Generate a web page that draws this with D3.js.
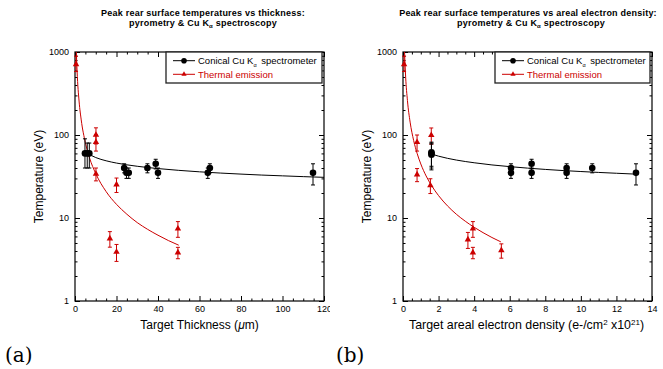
<!DOCTYPE html>
<html><head><meta charset="utf-8">
<script src="https://cdn.jsdelivr.net/npm/d3@7"></script>
<style>body{margin:0;background:#fff} svg{display:block}</style>
</head><body>
<svg id="c" width="663" height="369"></svg>
<script>
// ---------- Panel (a): vs target thickness (µm) ----------
const aKaX   = [4.8, 5.9, 6.9, 23.7, 24.8, 25.9, 34.9, 38.9, 40, 64, 65, 114.7];
const aKaT   = [60, 60, 60, 40, 35, 35, 40, 45, 35, 35, 40, 35];
const aKaUp  = [30, 20, 20, 5, 5, 5, 5, 6, 5, 5, 5, 10];
const aKaDn  = [20, 20, 20, 5, 5, 5, 5, 6, 5, 5, 5, 10];
const aThX   = [0.5, 10.1, 10.1, 10.1, 20, 16.8, 20, 49.6, 49.6];
const aThT   = [711, 100, 82, 34, 25.3, 5.65, 3.9, 7.45, 3.83];
const aThUp  = [180, 22, 18, 6, 5, 1.2, 0.9, 1.6, 0.6];
const aThDn  = [130, 22, 18, 6, 5, 1.2, 0.9, 1.6, 0.6];
const aKaFitX = [6, 10, 15, 20, 30, 40, 50, 60, 70, 80, 90, 100, 110, 120];
const aKaFitT = [60, 53.5, 48.9, 45.9, 42, 39.4, 37.5, 36, 34.8, 33.8, 32.9, 32.2, 31.5, 30.9];
const aThFitX = [0.65, 1, 2, 3, 5, 7, 10, 15, 20, 25, 30, 35, 40, 45, 50];
const aThFitT = [1000, 590, 250, 152, 81, 53, 34.3, 20.8, 14.6, 11.1, 8.8, 7.3, 6.2, 5.35, 4.7];

// ---------- Panel (b): vs areal electron density ----------
const bKaX   = [1.6, 1.6, 1.6, 6.07, 6.07, 7.23, 7.23, 9.2, 9.2, 10.64, 13.1];
const bKaT   = [62, 60, 58, 40, 35, 45, 35, 40, 35, 40, 35];
const bKaUp  = [20, 20, 20, 5, 5, 6, 5, 5, 5, 5, 10];
const bKaDn  = [20, 20, 20, 5, 5, 6, 5, 5, 5, 5, 10];
const bThX   = [0.06, 0.79, 0.79, 1.59, 1.54, 3.65, 3.93, 3.93, 5.53];
const bThT   = [711, 82, 33.4, 99.5, 24.7, 5.5, 7.45, 3.83, 4.08];
const bThUp  = [180, 18, 6, 22, 5, 1.2, 1.6, 0.6, 0.8];
const bThDn  = [130, 18, 6, 22, 5, 1.2, 1.6, 0.6, 0.8];
const bKaFitX = [1.6, 2, 3, 4, 5, 6, 7, 8, 9, 10, 11, 12, 13.2];
const bKaFitT = [59, 55.6, 49.9, 46.3, 43.6, 41.6, 39.9, 38.5, 37.3, 36.3, 35.4, 34.6, 33.7];
const bThFitX = [0.087, 0.15, 0.25, 0.4, 0.6, 0.8, 1, 1.3, 1.6, 2, 2.5, 3, 3.5, 4, 4.5, 5, 5.5];
const bThFitT = [1000, 496, 260, 143, 85.7, 59.5, 44.8, 32.1, 24.7, 18.6, 14, 11.1, 9.15, 7.73, 6.66, 5.82, 5.16];

// ---------- axes ----------
const yMajor = [1, 10, 100, 1000];
const yMinor = [2,3,4,5,6,7,8,9,20,30,40,50,60,70,80,90,200,300,400,500,600,700,800,900];
const aXMajor = [0, 20, 40, 60, 80, 100, 120];
const bXMajor = [0, 2, 4, 6, 8, 10, 12, 14];

const RED = "#cc0000";
const SANS = "'Liberation Sans', Arial, Helvetica, sans-serif";
const svg = d3.select("#c");
svg.append("defs").append("clipPath").attr("id","clipA")
  .append("rect").attr("x",0).attr("y",0).attr("width",330).attr("height",369);

function panel(cfg) {
  const g = svg.append("g").attr("font-family", SANS);
  if (cfg.clip) g.attr("clip-path", "url(#clip" + cfg.clip + ")");
  const top = 52, bottom = 301;
  const x = d3.scaleLinear().domain(cfg.xDomain).range([cfg.left, cfg.right]);
  const y = d3.scaleLog().domain([1, 1000]).range([bottom, top]);
  const xMinor = d3.range(cfg.xDomain[0], cfg.xDomain[1] + 1e-9, cfg.minorStep)
                  .filter(v => !cfg.xMajor.some(m => Math.abs(m - v) < 1e-9));

  function style(sel) {
    sel.select(".domain").remove();
    sel.selectAll("line").attr("stroke", "#000").attr("stroke-width", 1);
    sel.selectAll("text").attr("font-family", SANS).attr("font-size", 9).attr("fill", "#000");
  }
  // bottom axis
  g.append("g").attr("transform", `translate(0,${bottom})`)
    .call(d3.axisBottom(x).tickValues(cfg.xMajor).tickSize(-5).tickPadding(5).tickFormat(d3.format("d"))).call(style);
  g.append("g").attr("transform", `translate(0,${bottom})`)
    .call(d3.axisBottom(x).tickValues(xMinor).tickSize(-2.5).tickFormat("")).call(style);
  // top axis
  g.append("g").attr("transform", `translate(0,${top})`)
    .call(d3.axisTop(x).tickValues(cfg.xMajor).tickSize(-5).tickFormat("")).call(style);
  g.append("g").attr("transform", `translate(0,${top})`)
    .call(d3.axisTop(x).tickValues(xMinor).tickSize(-2.5).tickFormat("")).call(style);
  // left axis
  g.append("g").attr("transform", `translate(${cfg.left},0)`)
    .call(d3.axisLeft(y).tickValues(yMajor).tickSize(-5).tickPadding(6).tickFormat(d3.format("d"))).call(style);
  g.append("g").attr("transform", `translate(${cfg.left},0)`)
    .call(d3.axisLeft(y).tickValues(yMinor).tickSize(-2.5).tickFormat("")).call(style);
  // right axis
  g.append("g").attr("transform", `translate(${cfg.right},0)`)
    .call(d3.axisRight(y).tickValues(yMajor).tickSize(-5).tickFormat("")).call(style);
  g.append("g").attr("transform", `translate(${cfg.right},0)`)
    .call(d3.axisRight(y).tickValues(yMinor).tickSize(-2.5).tickFormat("")).call(style);
  // frame
  g.append("rect").attr("x", cfg.left).attr("y", top)
    .attr("width", cfg.right - cfg.left).attr("height", bottom - top)
    .attr("fill", "none").attr("stroke", "#000").attr("stroke-width", 1.2);

  // fit curves
  const line = d3.line().x(d => x(d[0])).y(d => y(d[1])).curve(d3.curveMonotoneX);
  g.append("path").datum(d3.zip(cfg.kaFitX, cfg.kaFitT)).attr("d", line)
    .attr("fill", "none").attr("stroke", "#000").attr("stroke-width", 1);
  g.append("path").datum(d3.zip(cfg.thFitX, cfg.thFitT)).attr("d", line)
    .attr("fill", "none").attr("stroke", RED).attr("stroke-width", 1);

  function errorBars(xs, ts, ups, dns, color) {
    const data = xs.map((v, i) => ({x: v, t: ts[i], hi: ts[i] + ups[i], lo: ts[i] - dns[i]}));
    const eg = g.append("g").attr("stroke", color).attr("stroke-width", 1);
    eg.selectAll(".v").data(data).join("line")
      .attr("x1", d => x(d.x)).attr("x2", d => x(d.x))
      .attr("y1", d => y(d.hi)).attr("y2", d => y(d.lo));
    eg.selectAll(".h").data(data).join("line")
      .attr("x1", d => x(d.x) - 2).attr("x2", d => x(d.x) + 2)
      .attr("y1", d => y(d.hi)).attr("y2", d => y(d.hi));
    eg.selectAll(".l").data(data).join("line")
      .attr("x1", d => x(d.x) - 2).attr("x2", d => x(d.x) + 2)
      .attr("y1", d => y(d.lo)).attr("y2", d => y(d.lo));
    return data;
  }
  errorBars(cfg.thX, cfg.thT, cfg.thUp, cfg.thDn, RED);
  const tri = d3.symbol(d3.symbolTriangle, 18);
  g.selectAll(".tri").data(d3.zip(cfg.thX, cfg.thT)).join("path")
    .attr("d", tri).attr("transform", d => `translate(${x(d[0])},${y(d[1])})`).attr("fill", RED);
  errorBars(cfg.kaX, cfg.kaT, cfg.kaUp, cfg.kaDn, "#000");
  g.selectAll(".dot").data(d3.zip(cfg.kaX, cfg.kaT)).join("circle")
    .attr("cx", d => x(d[0])).attr("cy", d => y(d[1])).attr("r", 3.3).attr("fill", "#000");

  // legend
  const L = cfg.legendLeft, W = cfg.right - 2 - L;
  const lg = g.append("g");
  lg.append("rect").attr("x", L).attr("y", top).attr("width", W).attr("height", 31)
    .attr("fill", "#fff").attr("stroke", "#222").attr("stroke-width", 1.3);
  const r1 = top + 8.7, r2 = top + 22.3;
  lg.append("line").attr("x1", L + 7).attr("x2", L + 29).attr("y1", r1).attr("y2", r1).attr("stroke", "#000");
  lg.append("circle").attr("cx", L + 18).attr("cy", r1).attr("r", 2.8).attr("fill", "#000");
  lg.append("line").attr("x1", L + 7).attr("x2", L + 29).attr("y1", r2).attr("y2", r2).attr("stroke", RED);
  lg.append("path").attr("d", d3.symbol(d3.symbolTriangle, 12)()).attr("transform", `translate(${L + 18},${r2})`).attr("fill", RED);
  const t1 = lg.append("text").attr("x", L + 32).attr("y", r1 + 3.5).attr("font-size", 9.5).attr("fill", "#000");
  t1.append("tspan").text("Conical Cu K");
  t1.append("tspan").attr("dy", 3).attr("font-size", 5.5).text("α");
  t1.append("tspan").attr("dy", -3).attr("dx", 2).text(" spectrometer");
  lg.append("text").attr("x", L + 32).attr("y", r2 + 3.5).attr("font-size", 9.5).attr("fill", RED).text("Thermal emission");

  // titles
  g.append("text").attr("x", cfg.titleX).attr("y", 15.8).attr("text-anchor", "middle")
    .attr("font-size", 9).attr("letter-spacing", 0.22).attr("font-weight", "bold").text(cfg.title);
  const t2 = g.append("text").attr("x", cfg.titleX + cfg.title2Dx).attr("y", 25.9).attr("text-anchor", "middle")
    .attr("font-size", 9).attr("letter-spacing", 0.22).attr("font-weight", "bold");
  t2.append("tspan").text("pyrometry & Cu K");
  t2.append("tspan").attr("dy", 2.5).attr("font-size", 6).text("α");
  t2.append("tspan").attr("dy", -2.5).text(" spectroscopy");

  // axis titles
  const xt = g.append("text").attr("x", (cfg.left + cfg.right) / 2 + cfg.xLabelDx).attr("y", 328.5)
    .attr("text-anchor", "middle").attr("font-size", 12);
  cfg.xLabel(xt);
  g.append("text").attr("transform", `translate(${cfg.left - 32},${(top + bottom) / 2}) rotate(-90)`)
    .attr("text-anchor", "middle").attr("font-size", 12).text("Temperature (eV)");

  // panel letter
  svg.append("text").attr("x", cfg.letterX).attr("y", 362).attr("font-family", "'DejaVu Serif', 'Liberation Serif', serif")
    .attr("font-size", 20).text(cfg.letter);
}

panel({
  left: 75, right: 324, xDomain: [0, 120], xMajor: aXMajor, minorStep: 5, clip: "A",
  kaX: aKaX, kaT: aKaT, kaUp: aKaUp, kaDn: aKaDn, thX: aThX, thT: aThT, thUp: aThUp, thDn: aThDn,
  kaFitX: aKaFitX, kaFitT: aKaFitT, thFitX: aThFitX, thFitT: aThFitT,
  legendLeft: 166, titleX: 203, title2Dx: 0, xLabelDx: 0,
  title: "Peak rear surface temperatures vs thickness:",
  xLabel: t => { t.append("tspan").text("Target Thickness ("); t.append("tspan").attr("font-style", "italic").text("μ"); t.append("tspan").text("m)"); },
  letter: "(a)", letterX: 5
});
panel({
  left: 403, right: 652, xDomain: [0, 14], xMajor: bXMajor, minorStep: 0.5, clip: null,
  kaX: bKaX, kaT: bKaT, kaUp: bKaUp, kaDn: bKaDn, thX: bThX, thT: bThT, thUp: bThUp, thDn: bThDn,
  kaFitX: bKaFitX, kaFitT: bKaFitT, thFitX: bThFitX, thFitT: bThFitT,
  legendLeft: 495, titleX: 528, title2Dx: 3, xLabelDx: -1,
  title: "Peak rear surface temperatures vs areal electron density:",
  xLabel: t => { t.append("tspan").attr("font-size", 12.4).text("Target areal electron density (e-/cm");
    t.append("tspan").attr("dy", -4).attr("font-size", 8).text("2");
    t.append("tspan").attr("dy", 4).attr("font-size", 12.4).text(" x10");
    t.append("tspan").attr("dy", -4).attr("font-size", 8).text("21");
    t.append("tspan").attr("dy", 4).attr("font-size", 12.4).text(")"); },
  letter: "(b)", letterX: 336
});
</script>
</body></html>
